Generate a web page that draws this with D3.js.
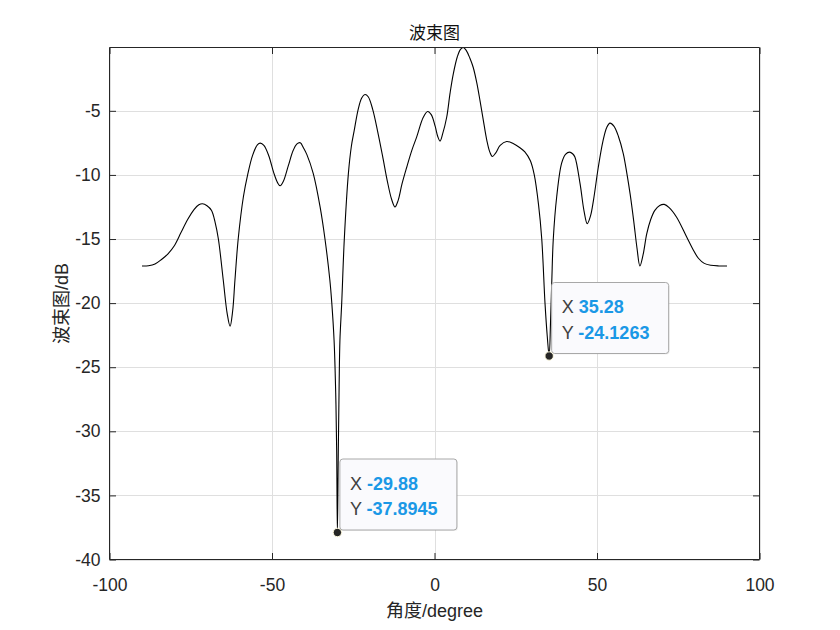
<!DOCTYPE html>
<html>
<head>
<meta charset="utf-8">
<script src="https://cdn.jsdelivr.net/npm/d3@7"></script>
<style>
  html, body { margin: 0; padding: 0; background: #ffffff; }
  svg { display: block; }
</style>
</head>
<body>
<svg id="chart" width="840" height="630"></svg>
<script>
// ---- data ----
const angles = [
  -90, -88, -86, -84, -82, -80, -78, -76, -74, -72.5, -71.4, -70, -68.6, -67.5, -66.5, -65.0, -63.8, -62.9,
  -62.1, -61.4, -60.4, -58.8, -57.5, -56, -54.5, -53.6, -52.5, -51, -49.5, -48.3, -47.5, -46.5, -45, -43.5,
  -42.4, -41.3, -40.3, -39.3, -37.3, -35.2, -33.7, -32.2, -31.6, -30.9, -30.4, -30.1, -29.88, -29.6, -29.35,
  -29.1, -28.55, -27.75, -26.5, -25.6, -24.7, -23.5, -22.4, -21.4, -20.4, -19, -17.5, -16, -14.5, -13.2,
  -12.15, -11.2, -10, -8.55, -7, -5.5, -3.45, -2.1, -1.0, 0.2, 1.0, 1.7, 2.5, 3.75, 4.8, 5.8, 7.0, 8.0, 8.85,
  9.8, 10.9, 11.9, 13.0, 14.0, 15.0, 16.1, 17.0, 17.8, 18.8, 20.2, 22.2, 24.2, 26.3, 27.8, 29.5, 30.7, 32.0,
  33.0, 34.0, 34.7, 35.28, 35.7, 36.1, 36.55, 37.6, 39.1, 40.3, 41.6, 42.5, 43.2, 44.8, 46.0, 47.0, 48.0,
  48.9, 50.4, 51.8, 53.0, 54.0, 55.2, 56.6, 58.1, 59.2, 60.2, 61.3, 62.3, 63.2, 64.2, 65.3, 66.5, 67.8, 69.3,
  70.7, 72.2, 74.5, 77.6, 79.5, 81.2, 83, 85, 87.5, 90
];
const beamDb = [
  -17.10, -17.08, -16.95, -16.6, -16.15, -15.5, -14.5, -13.5, -12.7, -12.33, -12.25, -12.4, -12.77, -13.7, -15.0, -18.2, -20.8, -21.8,
  -20.6, -18.2, -15.0, -11.7, -10.0, -8.5, -7.65, -7.52, -7.7, -8.5, -9.8, -10.6, -10.85, -10.5, -9.3, -8.1,
  -7.6, -7.49, -7.9, -8.4, -9.9, -12.5, -15.0, -18.2, -20.0, -22.9, -27.0, -31.5, -37.8945, -31.5, -26.5,
  -22.9, -20.0, -15.0, -9.9, -7.8, -6.53, -4.9, -4.0, -3.73, -3.9, -4.9, -6.6, -8.5, -10.5, -11.9,
  -12.5, -12.0, -10.7, -9.4, -8.1, -7.05, -5.5, -5.05, -5.3, -6.2, -7.0, -7.36, -6.8, -5.5, -3.6, -2.1, -0.8, -0.2, -0.06,
  -0.3, -0.9, -1.6, -2.8, -4.2, -5.7, -7.3, -8.2, -8.56, -8.3, -7.7, -7.39, -7.55, -7.88, -8.2, -8.9, -10.0, -12.3,
  -15.0, -20.0, -22.6, -24.1263, -21.5, -18.2, -15.0, -11.7, -9.1, -8.4, -8.22, -8.35, -8.6, -10.7, -12.8, -13.8, -13.2,
  -12.0, -9.4, -7.4, -6.3, -5.96, -6.2, -7.0, -8.35, -9.9, -11.5, -13.6, -15.7, -17.1, -16.2, -14.6, -13.5, -12.77, -12.38,
  -12.3, -12.55, -13.3, -14.85, -15.8, -16.5, -16.9, -17.05, -17.1, -17.1
];
const xTicks = [-100, -50, 0, 50, 100];
const yTicks = [-40, -35, -30, -25, -20, -15, -10, -5];
const tipX = [-29.88, 35.28];
const tipY = [-37.8945, -24.1263];
const tipXLabel = ["-29.88", "35.28"];
const tipYLabel = ["-37.8945", "-24.1263"];
const titleText = "波束图";
const xLabelText = "角度/degree";
const yLabelText = "波束图/dB";

// ---- layout ----
const L = 109.5, R = 759.5, T = 47.5, B = 559.5;
const axisColor = "#262626";
const font = "'Liberation Sans', Arial, 'Noto Sans CJK SC', sans-serif";
const fmt = d => String(d);

const svg = d3.select("#chart");
const x = d3.scaleLinear().domain([-100, 100]).range([L, R]);
const y = d3.scaleLinear().domain([-40, -0.06]).range([B, T]);

// grid
const grid = svg.append("g");
grid.selectAll(".gx").data(xTicks).join("line")
  .attr("x1", d => Math.round(x(d)) + 0.5).attr("x2", d => Math.round(x(d)) + 0.5)
  .attr("y1", T).attr("y2", B)
  .attr("stroke", "#dfdfdf").attr("stroke-width", 1);
grid.selectAll(".gy").data(yTicks).join("line")
  .attr("x1", L).attr("x2", R)
  .attr("y1", d => Math.round(y(d)) + 0.5).attr("y2", d => Math.round(y(d)) + 0.5)
  .attr("stroke", "#dfdfdf").attr("stroke-width", 1);

// curve
const pts = angles.map((a, i) => [a, beamDb[i]]);
const line = d3.line().x(d => x(d[0])).y(d => y(d[1])).curve(d3.curveCatmullRom.alpha(0.5));
svg.append("path").attr("d", line(pts))
  .attr("fill", "none").attr("stroke", "#000000").attr("stroke-width", 1.1)
  .attr("stroke-linejoin", "round");

// axes (box with inward ticks)
const tickLen = 6.5;
const axB = d3.axisBottom(x).tickValues(xTicks).tickSize(-tickLen).tickFormat(fmt);
const axT = d3.axisTop(x).tickValues(xTicks).tickSize(-tickLen).tickFormat("");
const axLft = d3.axisLeft(y).tickValues(yTicks).tickSize(-tickLen).tickFormat(fmt);
const axRt = d3.axisRight(y).tickValues(yTicks).tickSize(-tickLen).tickFormat("");

function styleAxis(g) {
  g.select(".domain").attr("stroke", axisColor).attr("stroke-width", 1);
  g.selectAll(".tick line").attr("stroke", axisColor).attr("stroke-width", 1);
  g.selectAll(".tick text").attr("fill", axisColor).style("font-family", font).style("font-size", "17.5px");
}
const gB = svg.append("g").attr("transform", `translate(0,${B})`).call(axB).call(styleAxis);
gB.select(".domain").attr("d", `M${L},0H${R}`);
gB.selectAll(".tick text").attr("dy", "0.71em").attr("y", 19);
const gT = svg.append("g").attr("transform", `translate(0,${T})`).call(axT).call(styleAxis);
gT.select(".domain").attr("d", `M${L},0H${R}`);
const gL = svg.append("g").attr("transform", `translate(${L},0)`).call(axLft).call(styleAxis);
gL.select(".domain").attr("d", `M0,${T}V${B}`);
gL.selectAll(".tick text").attr("x", -9);
const gR = svg.append("g").attr("transform", `translate(${R},0)`).call(axRt).call(styleAxis);
gR.select(".domain").attr("d", `M0,${T}V${B}`);

// title & labels
svg.append("text").attr("x", (L + R) / 2).attr("y", 39).attr("text-anchor", "middle")
  .attr("fill", "#111").style("font-family", "'Noto Sans CJK SC', sans-serif").style("font-size", "17px")
  .text(titleText);
svg.append("text").attr("x", (L + R) / 2).attr("y", 617).attr("text-anchor", "middle")
  .attr("fill", axisColor).style("font-family", font).style("font-size", "18px")
  .text(xLabelText);
svg.append("text").attr("transform", `translate(68,${(T + B) / 2}) rotate(-90)`).attr("text-anchor", "middle")
  .attr("fill", axisColor).style("font-family", font).style("font-size", "18px")
  .text(yLabelText);

// data tips
const tips = svg.append("g");
tipX.forEach((tx, i) => {
  const px = x(tx), py = y(tipY[i]);
  const bx = px + 2.5, by = py - 2.5 - 71;
  tips.append("rect").attr("x", bx + 1).attr("y", by + 1).attr("width", 117).attr("height", 71)
    .attr("rx", 3).attr("fill", "#000").attr("opacity", 0.06);
  tips.append("rect").attr("x", bx).attr("y", by).attr("width", 117).attr("height", 71)
    .attr("rx", 3).attr("fill", "#fafafd").attr("stroke", "#a8a8a8").attr("stroke-width", 1);
  const rows = [["X", tipXLabel[i], 30.5], ["Y", tipYLabel[i], 56]];
  rows.forEach(r => {
    const t = tips.append("text").attr("x", bx + 10).attr("y", by + r[2])
      .style("font-family", font).style("font-size", "18px");
    t.append("tspan").attr("fill", "#404040").text(r[0] + " ");
    t.append("tspan").attr("fill", "#1a98e6").attr("font-weight", "bold").text(r[1]);
  });
  tips.append("circle").attr("cx", px).attr("cy", py).attr("r", 4.2)
    .attr("fill", "#262626").attr("stroke", "#fffbe0").attr("stroke-width", 1);
});
</script>
</body>
</html>
